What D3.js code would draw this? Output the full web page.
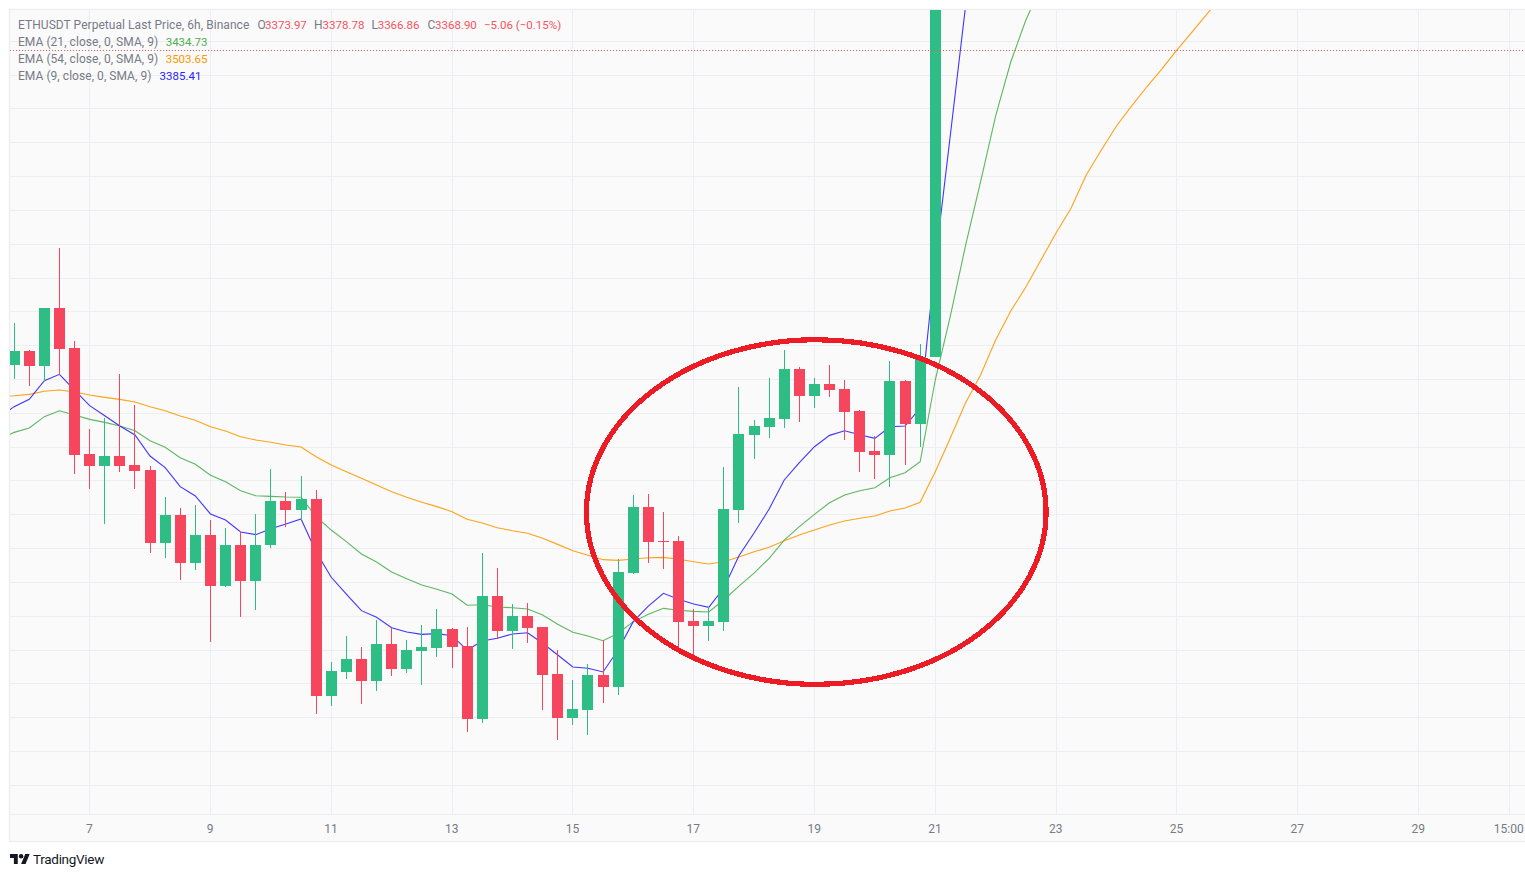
<!DOCTYPE html>
<html>
<head>
<meta charset="utf-8">
<title>ETHUSDT Perpetual 6h</title>
<script src="https://cdn.jsdelivr.net/npm/d3@7"></script>
<style>
    html, body { margin: 0; padding: 0; background: #fff; overflow: hidden; }
    svg { display: block; }
    text { font-family: "Roboto", sans-serif; }
</style>
</head>
<body>
<div id="chart"></div>
<script>
// 6h candles, index 0 is the evening of the 5th
const barOpen = [3135.7,3146.0,3135.0,3177.8,3148.3,3069.9,3061.0,3068.4,3061.8,3058.1,
    3004.1,3024.8,2989.3,3010.0,2972.3,3002.6,2976.0,3002.6,3035.2,3028.5,
    3036.6,2891.0,2908.8,2918.4,2902.1,2929.5,2911.0,2924.3,2926.5,2940.5,
    2928.0,2874.0,2964.9,2939.1,2950.2,2942.0,2907.3,2874.8,2880.7,2906.5,
    2897.7,2981.9,3030.7,3005.6,3005.6,2946.4,2942.7,2945.7,3028.5,3084.0,
    3089.9,3095.8,3132.7,3112.8,3121.6,3118.0,3101.7,3072.1,3069.2,3123.9,
    3092.1,3141.6];
const barHigh = [3166.7,3146.8,3177.8,3222.2,3153.4,3088.4,3096.5,3129.0,3106.1,3061.0,
    3038.1,3030.0,3032.2,3021.1,3015.2,3013.0,3025.6,3058.8,3041.8,3053.6,
    3043.3,2916.2,2935.4,2927.2,2947.2,2941.3,2932.4,2943.5,2955.3,2941.3,
    2942.0,2996.7,2986.0,2959.0,2959.8,2942.0,2925.0,2902.8,2914.7,2932.4,
    2992.3,3039.6,3040.3,3027.0,3009.3,2955.3,2956.8,3060.3,3119.4,3095.0,
    3126.1,3146.8,3134.2,3126.1,3135.7,3124.6,3102.4,3083.2,3138.6,3124.6,
    3151.2,3680.0];
const barLow = [3125.3,3120.4,3123.9,3128.3,3055.1,3044.0,3018.2,3056.6,3044.0,2996.7,
    2993.0,2976.8,2984.2,2930.9,2971.6,2949.4,2954.6,3000.4,3015.9,3021.1,
    2877.7,2883.6,2903.6,2885.1,2894.7,2905.8,2908.0,2899.2,2919.8,2911.7,
    2864.4,2871.1,2933.2,2925.8,2930.2,2880.7,2858.5,2869.6,2862.2,2885.8,
    2891.7,2981.2,2989.3,2984.9,2923.5,2920.6,2931.7,2939.1,3018.9,3066.2,
    3081.7,3089.1,3093.5,3103.9,3112.0,3080.2,3056.6,3051.4,3045.5,3061.8,
    3075.1,3141.6];
const barClose = [3146.0,3135.0,3177.8,3147.5,3069.2,3061.0,3068.4,3061.0,3057.3,3004.1,
    3024.8,2989.3,3010.0,2972.3,3002.6,2976.0,3002.6,3035.2,3028.5,3036.6,
    2891.0,2909.5,2918.4,2902.1,2929.5,2911.0,2925.0,2927.2,2940.5,2927.2,
    2874.0,2964.9,2939.1,2950.2,2941.3,2906.5,2874.8,2881.4,2906.5,2897.7,
    2982.7,3030.7,3004.9,3004.9,2945.7,2942.7,2946.4,3029.2,3084.7,3090.6,
    3096.5,3132.7,3112.8,3121.6,3117.2,3101.0,3071.4,3069.2,3123.9,3092.1,
    3141.6,3660.0];

// EMAs start one bar earlier, just left of the visible range
const ema9 = [3097.0,3104.9,3110.3,3124.1,3128.8,3117.2,3105.7,3098.2,3090.6,3084.0,3068.4,
    3059.8,3045.8,3038.9,3025.6,3021.1,3012.3,3010.3,3014.7,3018.2,3021.9,
    2997.5,2978.8,2966.4,2954.1,2949.2,2941.5,2938.3,2936.6,2937.1,2935.6,
    2925.0,2931.7,2933.7,2936.9,2937.8,2930.0,2921.3,2912.5,2911.5,2908.8,
    2925.0,2946.0,2957.5,2966.9,2962.5,2959.0,2956.6,2970.8,2994.7,3011.5,
    3029.2,3050.7,3063.5,3075.3,3083.7,3087.1,3084.2,3081.5,3090.1,3090.6,
    3103.9,3211.8,3305.7,3400.3,3486.8];
const ema21 = [3080.2,3085.9,3089.1,3097.5,3101.9,3098.7,3095.5,3093.3,3090.6,3087.1,3079.7,
    3074.9,3067.2,3062.3,3054.2,3049.4,3042.8,3039.1,3038.6,3038.1,3037.9,
    3023.5,3013.7,3005.1,2996.0,2990.1,2982.7,2977.7,2973.1,2969.9,2966.4,
    2958.1,2958.5,2956.8,2956.3,2955.3,2950.9,2944.0,2938.1,2935.4,2931.9,
    2937.4,2946.0,2951.4,2955.8,2954.4,2953.6,2953.1,2962.0,2972.3,2981.9,
    2992.8,3006.3,3016.2,3025.3,3033.9,3039.6,3042.8,3045.0,3052.4,3056.1,
    3064.2,3124.6,3171.9,3223.7,3271.0,3319.8,3359.7,3390.7,3415.1];
const ema54 = [3112.4,3113.0,3114.0,3116.3,3117.2,3115.7,3113.5,3111.8,3110.3,3108.3,3104.9,
    3101.9,3098.0,3094.8,3090.1,3086.9,3082.7,3080.3,3078.6,3076.6,3075.1,
    3067.9,3061.8,3056.8,3051.9,3047.0,3042.0,3037.9,3034.2,3031.0,3027.3,
    3021.6,3018.9,3015.4,3013.2,3011.3,3007.6,3003.1,2998.4,2995.0,2991.8,
    2991.3,2992.3,2993.2,2993.5,2992.1,2990.3,2988.6,2990.3,2993.8,2997.7,
    3000.9,3005.8,3010.0,3013.7,3017.4,3020.4,3022.4,3024.1,3027.8,3030.0,
    3034.2,3056.8,3081.7,3107.6,3128.3,3154.2,3175.6,3193.4,3213.3,3233.3,
    3251.7,3276.1,3294.6,3312.4,3327.1,3341.2,3354.5,3368.5,3381.8,3395.2,
    3408.5];

const tickBars = [5,13,21,29,37,45,53,61,69,77,85,93,99];
const tickLabels = ["7","9","11","13","15","17","19","21","23","25","27","29","15:00"];
const priceLines = d3.range(3375, 2824, -25);
const lastPrice = 3368.90;

// hand drawn ring: centre in bar/price, radii in bars/USD
const ringBar = 53.12, ringPrice = 3027, ringBars = 15.22, ringUsd = 127.4;

const upColor = "#2ebd85", downColor = "#f6465d", greyText = "#787b86";
const gridColor = "#edeef2", borderColor = "#eeeff3";

const width = 1525, height = 877;
const plot = { left: 10, right: 1525, top: 10, bottom: 814, frameBottom: 842 };

const svg = d3.select("#chart").append("svg")
    .attr("width", width)
    .attr("height", height)
    .attr("viewBox", `0 0 ${width} ${height}`);

const x = d3.scaleLinear().domain([0, 61]).range([14.15, 935.25]);
const y = d3.scaleLinear().domain([3375, 2825]).range([41.3, 785.3]);
const snap = v => Math.floor(v) + 0.5;

// chart frame
svg.append("rect")
    .attr("x", plot.left - 0.5)
    .attr("y", plot.top - 0.5)
    .attr("width", plot.right - plot.left + 2)
    .attr("height", plot.frameBottom - plot.top)
    .attr("fill", "#fafafa")
    .attr("stroke", borderColor)
    .attr("stroke-width", 1.5);

svg.append("clipPath").attr("id", "plot-clip").append("rect")
    .attr("x", plot.left)
    .attr("y", plot.top)
    .attr("width", plot.right - plot.left)
    .attr("height", plot.bottom - plot.top);

const pane = svg.append("g").attr("clip-path", "url(#plot-clip)");

// grid
pane.selectAll(".h-grid").data(priceLines).enter().append("line")
    .attr("class", "h-grid")
    .attr("x1", plot.left).attr("x2", plot.right)
    .attr("y1", d => snap(y(d))).attr("y2", d => snap(y(d)))
    .attr("stroke", gridColor);

pane.selectAll(".v-grid").data(tickBars).enter().append("line")
    .attr("class", "v-grid")
    .attr("y1", plot.top).attr("y2", plot.bottom)
    .attr("x1", d => snap(x(d))).attr("x2", d => snap(x(d)))
    .attr("stroke", gridColor);

// EMAs go under the candles
const emaLine = d3.line().x((d, i) => x(i - 1)).y(d => y(d));
[[ema54, "#ff9800"], [ema21, "#4caf50"], [ema9, "#2a1fff"]].forEach(([values, color]) => {
    pane.append("path")
        .attr("d", emaLine(values))
        .attr("fill", "none")
        .attr("stroke", color)
        .attr("stroke-opacity", 0.9)
        .attr("stroke-width", 1.1);
});

// candles
const candles = pane.selectAll(".candle").data(barOpen).enter().append("g")
    .attr("class", "candle")
    .attr("fill", (d, i) => barClose[i] >= d ? upColor : downColor)
    .attr("stroke", (d, i) => barClose[i] >= d ? upColor : downColor);

candles.append("line")
    .attr("x1", (d, i) => snap(x(i))).attr("x2", (d, i) => snap(x(i)))
    .attr("y1", (d, i) => Math.round(y(barHigh[i])))
    .attr("y2", (d, i) => Math.round(y(barLow[i])));

candles.append("rect")
    .attr("stroke", "none")
    .attr("x", (d, i) => Math.floor(x(i)) - 5)
    .attr("width", 11)
    .attr("y", (d, i) => Math.round(y(Math.max(d, barClose[i]))))
    .attr("height", (d, i) => Math.max(1, Math.round(y(Math.min(d, barClose[i]))) - Math.round(y(Math.max(d, barClose[i])))));

// last price line
pane.append("line")
    .attr("x1", plot.left).attr("x2", plot.right)
    .attr("y1", Math.round(y(lastPrice)) + 0.5).attr("y2", Math.round(y(lastPrice)) + 0.5)
    .attr("stroke", "#f7525f")
    .attr("stroke-dasharray", "1 2")
    .attr("shape-rendering", "crispEdges");

// time axis
const axis = svg.append("g")
    .attr("transform", `translate(0,${plot.bottom})`)
    .call(d3.axisBottom(x)
        .tickValues(tickBars)
        .tickFormat((d, i) => tickLabels[i])
        .tickSize(0)
        .tickPadding(10));
axis.select(".domain").remove();
axis.selectAll("text")
    .attr("fill", greyText)
    .attr("dx", -0.8)
    .style("font-family", '"Roboto", sans-serif')
    .style("font-size", "12px");

svg.append("line")
    .attr("x1", plot.left).attr("x2", plot.right)
    .attr("y1", plot.bottom + 0.5).attr("y2", plot.bottom + 0.5)
    .attr("stroke", borderColor);

// the red ring is on top of everything
svg.append("ellipse")
    .attr("cx", x(ringBar))
    .attr("cy", y(ringPrice))
    .attr("rx", x(ringBar + ringBars) - x(ringBar))
    .attr("ry", y(ringPrice - ringUsd) - y(ringPrice))
    .attr("fill", "none")
    .attr("stroke", "#ed1c24")
    .attr("stroke-width", 5.2)
    .attr("shape-rendering", "crispEdges");

// legend, numbers are set a little tighter than the labels
const legendRows = [
    { y: 29, parts: [
        ["ETHUSDT Perpetual Last Price, 6h, Binance", 18, greyText],
        ["O", 257.5, greyText], ["3373.97", 265, "#f7525f"],
        ["H", 314, greyText], ["3378.78", 322.6, "#f7525f"],
        ["L", 371.6, greyText], ["3366.86", 377.7, "#f7525f"],
        ["C", 427.5, greyText], ["3368.90", 435, "#f7525f"],
        ["\u22125.06 (\u22120.15%)", 484, "#f7525f"]] },
    { y: 46, parts: [["EMA (21, close, 0, SMA, 9)", 18, greyText], ["3434.73", 165.7, "#4caf50"]] },
    { y: 63, parts: [["EMA (54, close, 0, SMA, 9)", 18, greyText], ["3503.65", 165.7, "#ff9800"]] },
    { y: 80, parts: [["EMA (9, close, 0, SMA, 9)", 18, greyText], ["3385.41", 159.6, "#2a1fff"]] }
];
legendRows.forEach(row => {
    svg.selectAll(null).data(row.parts).enter().append("text")
        .attr("x", d => d[1])
        .attr("y", row.y)
        .attr("fill", d => d[2])
        .style("font-size", d => d[2] === greyText ? "12px" : "11.5px")
        .style("letter-spacing", d => d[2] === greyText ? "0.05px" : "0")
        .text(d => d[0]);
});

// TradingView mark
const logo = svg.append("g")
    .attr("transform", "translate(10,851.8) scale(0.555)")
    .attr("fill", "#131722");
logo.append("path").attr("d", "M14 22H7V11H0V4h14v18zM28 22h-8l7.5-18h8L28 22z");
logo.append("circle").attr("cx", 20).attr("cy", 8).attr("r", 4);

svg.append("text")
    .attr("x", 33)
    .attr("y", 864)
    .attr("fill", "#131722")
    .style("font-size", "13.5px")
    .style("letter-spacing", "-0.3px")
    .text("TradingView");
</script>
</body>
</html>
